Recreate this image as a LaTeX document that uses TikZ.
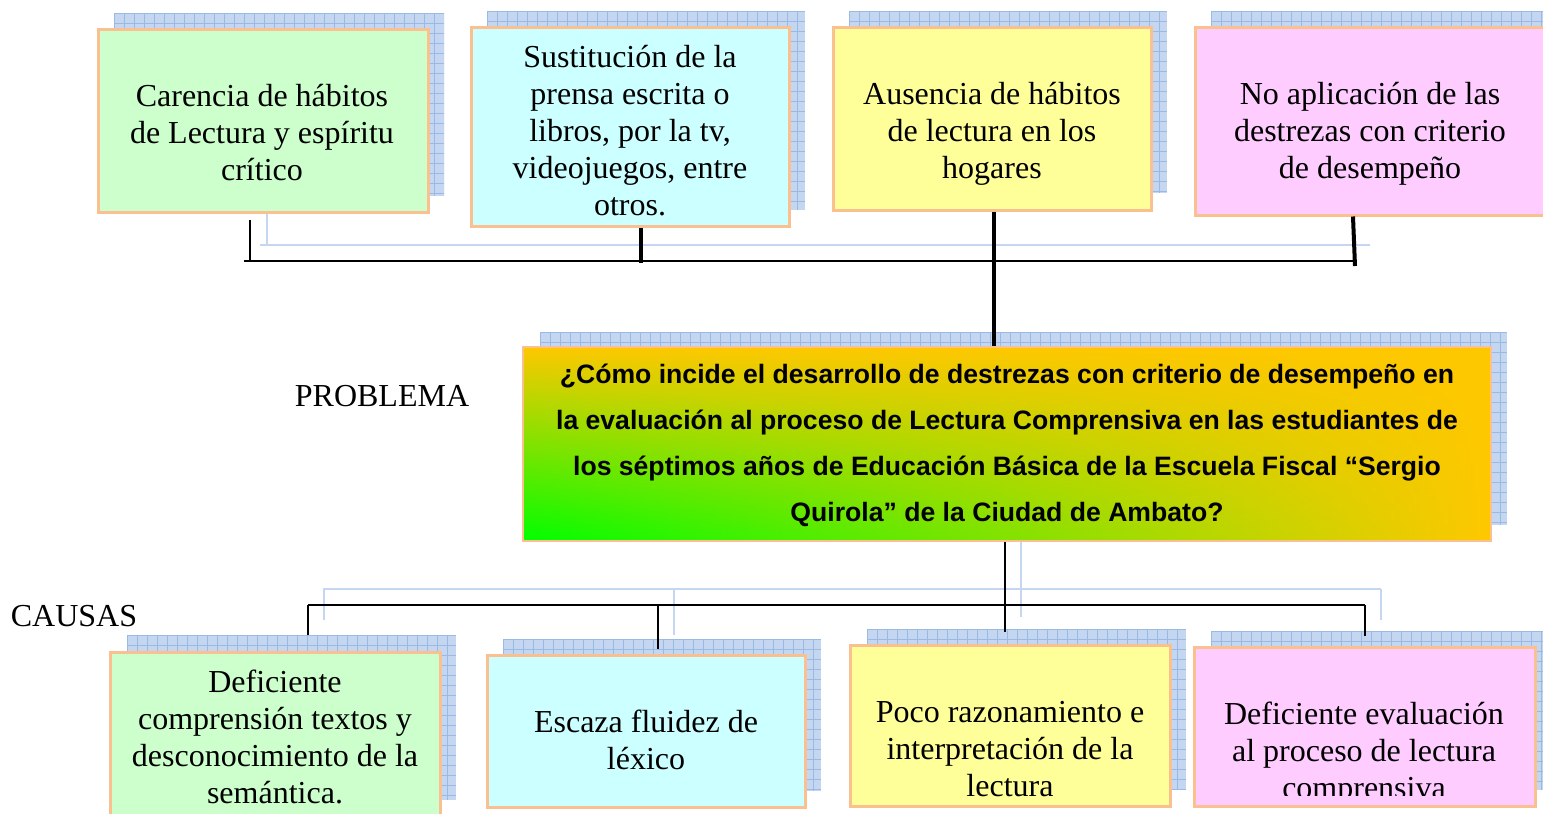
\documentclass[tikz,border=0pt]{standalone}
\usepackage{fontspec}
\setmainfont{Liberation Serif}
\setsansfont{Liberation Sans}
\usetikzlibrary{fadings}
\definecolor{bord}{HTML}{FAC090}
\definecolor{gfill}{HTML}{CCFFCC}
\definecolor{cfill}{HTML}{CCFFFF}
\definecolor{yfill}{HTML}{FFFF99}
\definecolor{pfill}{HTML}{FFCCFF}
\definecolor{shfill}{HTML}{C4D6F0}
\definecolor{gridc}{HTML}{9ABAE6}
\definecolor{lgreen}{HTML}{00FF00}
\definecolor{ymid}{HTML}{D0DE00}
\definecolor{orng}{HTML}{FFC800}
\tikzfading[name=topfade, top color=transparent!0, middle color=transparent!45, bottom color=transparent!100]
\tikzset{
  gridl/.style={draw=gridc, line width=0.5pt},
  shadowbox/.style={fill=shfill, inner sep=0pt, path picture={
    \foreach \gx in {0,5,...,490} {\draw[gridl] ([xshift=\gx pt]path picture bounding box.north west) -- ([xshift=\gx pt]path picture bounding box.south west);}
    \foreach \gy in {0,5,...,120} {\draw[gridl] ([yshift=-\gy pt]path picture bounding box.north west) -- ([yshift=-\gy pt]path picture bounding box.north east);}
  }},
  box/.style={draw=bord, line width=1.5pt, inner sep=0pt},
  btext/.style={align=center, inner sep=0pt, font=\fontsize{16pt}{18.5pt}\selectfont},
  probbox/.style={draw=bord, line width=1pt, inner sep=0pt, left color=lgreen, middle color=ymid, right color=orng,
    path picture={\fill[orng, path fading=topfade] (path picture bounding box.south west) rectangle (path picture bounding box.north east);}},
  ptext/.style={align=center, inner sep=0pt, font=\sffamily\bfseries\fontsize{13.3pt}{23pt}\selectfont},
  lab/.style={inner sep=0pt, font=\fontsize{16pt}{18.5pt}\selectfont},
  conn/.style={draw=black, line width=1pt},
  connt/.style={draw=black, line width=2pt},
  bshadow/.style={draw=shfill, line width=1.2pt},
}
\begin{document}
\begin{tikzpicture}[x=0.5pt,y=-0.5pt]
\useasboundingbox (0,0) rectangle (1543,814);
\clip (0,0) rectangle (1543,814);
\fill[white] (0,0) rectangle (1543,814);

% blue connector shadows
\coordinate (tbl) at (260,245);
\coordinate (tbr) at (1370,245);
\coordinate (bbl) at (323,589);
\coordinate (bbr) at (1381,589);
\draw[bshadow] (tbl) -- (tbr);
\draw[bshadow] (267,200) -- (267,245);
\draw[bshadow] (bbl) -- (bbr);
\draw[bshadow] (324,589) -- (324,620);
\draw[bshadow] (674,589) -- (674,635);
\draw[bshadow] (1021,533) -- (1021,617);
\draw[bshadow] (1381,589) -- (1381,620);

% top shadows
\node[shadowbox, minimum width=165pt, minimum height=91.5pt] (s1) at (279,104.5) {};
\node[shadowbox, minimum width=159pt, minimum height=99.5pt] (s2) at (646,110.5) {};
\node[shadowbox, minimum width=159pt, minimum height=91pt] (s3) at (1008,102) {};
\node[shadowbox, minimum width=175.5pt, minimum height=94pt] (s4) at (1386.5,105) {};

% top boxes
\node[box, fill=gfill, minimum width=165pt, minimum height=91.5pt] (c1) at (263,120.5) {};
\node[box, fill=cfill, minimum width=159pt, minimum height=99.5pt] (c2) at (630,126.5) {};
\node[box, fill=yfill, minimum width=159pt, minimum height=91.5pt] (c3) at (992,118.5) {};
\node[box, fill=pfill, minimum width=175.5pt, minimum height=94pt] (c4) at (1370.5,121) {};
\node[btext] (c1t) at (262,133) {Carencia de hábitos\\de Lectura y espíritu\\crítico};
\node[btext] (c2t) at (630,131) {Sustitución de la\\prensa escrita o\\libros, por la tv,\\videojuegos, entre\\otros.};
\node[btext] (c3t) at (992,134) {Ausencia de hábitos\\de lectura en los\\hogares};
\node[btext] (c4t) at (1370,134) {No aplicación de las\\destrezas con criterio\\de desempeño};

% problem
\node[shadowbox, minimum width=483.5pt, minimum height=96.5pt] (sp) at (1023.5,428.5) {};
\node[probbox, minimum width=484pt, minimum height=97pt] (prob) at (1007,444) {};
\node[ptext] (probt) at (1007,445) {¿Cómo incide el desarrollo de destrezas con criterio de desempeño en\\la evaluación al proceso de Lectura Comprensiva en las estudiantes de\\los séptimos años de Educación Básica de la Escuela Fiscal “Sergio\\Quirola” de la Ciudad de Ambato?};
\node[lab] (plab) at (382,396) {PROBLEMA};
\node[lab] (clab) at (74,616) {CAUSAS};

% bottom shadows
\node[shadowbox, minimum width=164.5pt, minimum height=82.5pt] (ds1) at (291.5,717.5) {};
\node[shadowbox, minimum width=159pt, minimum height=76pt] (ds2) at (662,715) {};
\node[shadowbox, minimum width=159.5pt, minimum height=80.5pt] (ds3) at (1026.5,709.5) {};
\node[shadowbox, minimum width=170.5pt, minimum height=79.5pt] (ds4) at (1381.5,710.5) {};

% bottom boxes
\node[box, fill=gfill, minimum width=165pt, minimum height=89pt] (d1) at (275,741) {};
\node[box, fill=cfill, minimum width=159pt, minimum height=76pt] (d2) at (646,731) {};
\node[box, fill=yfill, minimum width=160pt, minimum height=80.5pt] (d3) at (1010,725.5) {};
\node[box, fill=pfill, minimum width=170.5pt, minimum height=79.5pt] (d4) at (1364.5,726.5) {};
\node[btext] (d1t) at (275,737) {Deficiente\\comprensión textos y\\desconocimiento de la\\semántica.};
\node[btext] (d2t) at (646,740) {Escaza fluidez de\\léxico};
\node[btext] (d3t) at (1010,749) {Poco razonamiento e\\interpretación de la\\lectura};
\begin{scope}
\clip (1190,640) rectangle (1540,795);
\node[btext] (d4t) at (1364,754) {Deficiente evaluación\\al proceso de lectura\\comprensiva};
\end{scope}

% top connectors
\coordinate (tb) at (244,261);
\coordinate (tbe) at (1356,261);
\draw[conn] (tb) -- (tbe);
\draw[conn] ([xshift=-6.5pt]c1.south) ++(0,6) -- ([xshift=-6.5pt]c1.south |- tb);
\draw[connt] ([xshift=5.5pt]c2.south) -- ([xshift=5.5pt,yshift=-1pt]c2.south |- tb);
\draw[connt] ([xshift=1pt]c3.south) -- ([xshift=1pt]c3.south |- prob.north);
\draw[connt] ([xshift=-8.75pt]c4.south) -- ([xshift=-7.75pt,yshift=-2.5pt]c4.south |- tbe);

% bottom connectors
\coordinate (bb) at (308,605);
\coordinate (bbe) at (1365,605);
\draw[conn] (bb) -- (bbe);
\draw[conn] ([xshift=-1pt]prob.south) -- ([xshift=-1pt,yshift=-1.5pt]prob.south |- ds3.north);
\draw[conn] (bb) -- (bb |- ds1.north);
\draw[conn] ([xshift=6pt]d2.north |- bb) -- ([xshift=6pt,yshift=2.5pt]d2.north);
\draw[conn] (bbe) -- ([yshift=-2.5pt]bbe |- ds4.north);
\end{tikzpicture}
\end{document}
